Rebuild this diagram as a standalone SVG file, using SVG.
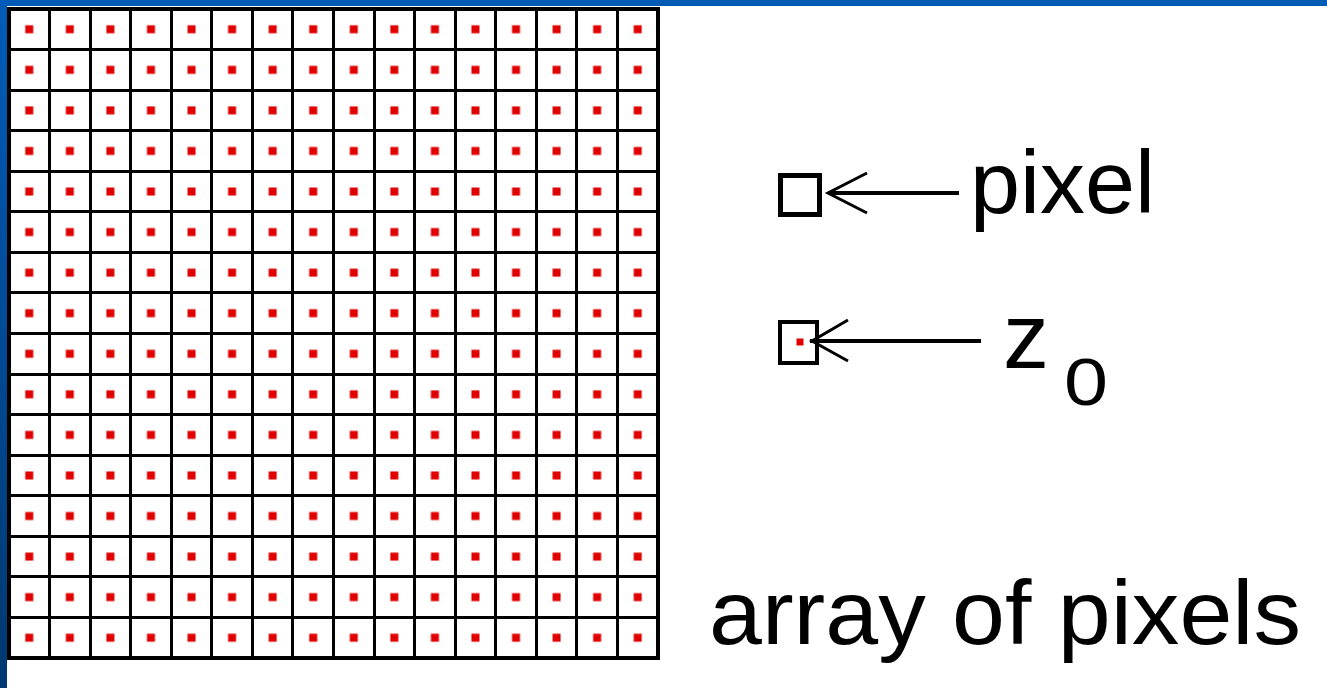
<svg xmlns="http://www.w3.org/2000/svg" width="1327" height="688" viewBox="0 0 1327 688">
<style>
.txt{font-family:"Liberation Sans",Arial,sans-serif;fill:#000}
.line{stroke:#000;fill:none}
.dot{fill:#e00000}
</style>
<defs>
<linearGradient id="lb" x1="0" y1="0" x2="0" y2="1">
<stop offset="0" stop-color="#005cb8"/>
<stop offset="1" stop-color="#003870"/>
</linearGradient>
<pattern id="dots" patternUnits="userSpaceOnUse" x="9" y="9" width="40.5625" height="40.5625">
<rect x="16.28" y="16.28" width="8" height="8" class="dot"/>
</pattern>
</defs>
<rect width="1327" height="688" fill="#fff"/>
<rect x="0" y="0" width="1327" height="6" fill="#005bb5"/>
<rect x="0" y="0" width="7" height="688" fill="url(#lb)"/>
<g id="array">
<rect x="9" y="9" width="649" height="649" fill="url(#dots)"/>
<path class="line" stroke-width="3" d="M49.5 9V658M90.5 9V658M130.5 9V658M171.5 9V658M211.5 9V658M252.5 9V658M292.5 9V658M333.5 9V658M374.5 9V658M414.5 9V658M455.5 9V658M495.5 9V658M536.5 9V658M576.5 9V658M617.5 9V658M9 49.5H658M9 90.5H658M9 130.5H658M9 171.5H658M9 211.5H658M9 252.5H658M9 292.5H658M9 333.5H658M9 374.5H658M9 414.5H658M9 455.5H658M9 495.5H658M9 536.5H658M9 576.5H658M9 617.5H658"/>
<rect x="9" y="9" width="649" height="649" class="line" stroke-width="4"/>
</g>
<g id="pixel">
<rect x="780.5" y="175.5" width="39" height="39" fill="#fff" class="line" stroke-width="5"/>
<text class="txt" x="970" y="213" font-size="89" textLength="185" lengthAdjust="spacingAndGlyphs">pixel</text>
</g>
<g id="z0">
<rect x="780" y="322" width="37" height="41" fill="#fff" class="line" stroke-width="4"/>
<rect x="796.5" y="338.5" width="7" height="7" class="dot"/>
<text class="txt" x="1003" y="368" font-size="92">z</text>
<text class="txt" x="1064" y="405" font-size="67" textLength="44" lengthAdjust="spacingAndGlyphs">0</text>
</g>
<g id="label">
<text class="txt" x="709" y="644" font-size="90" textLength="592" lengthAdjust="spacingAndGlyphs">array of pixels</text>
</g>
<g id="connectors">
<path class="line" stroke-width="4" d="M828 193H959"/>
<path class="line" stroke-width="3" d="M867 173L828 193L867 213"/>
<path class="line" stroke-width="4" d="M810 341H981"/>
<path class="line" stroke-width="3" d="M848 320L812 341L848 361"/>
</g>
</svg>
